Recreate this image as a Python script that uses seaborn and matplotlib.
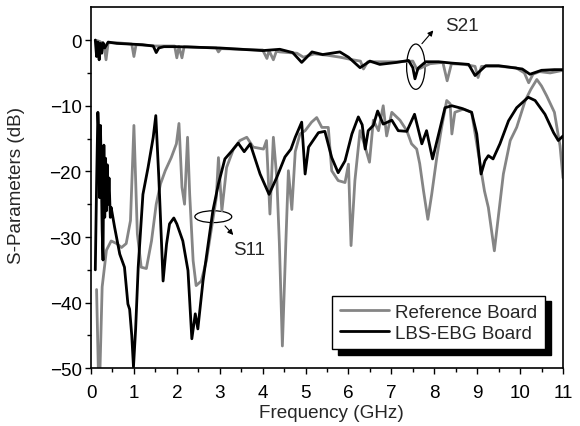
import pandas as pd
import seaborn as sns
import matplotlib.pyplot as plt
from matplotlib.patches import Ellipse

# S11 of the LBS-EBG board (black)
ebgS11X = [0.10, 0.13, 0.16, 0.18, 0.20, 0.22, 0.24, 0.26, 0.28, 0.30, 0.32, 0.34, 0.36, 0.38, 0.40, 0.42, 0.45,
           0.47, 0.55, 0.67, 0.78, 0.86, 0.90, 0.95, 0.99, 1.04, 1.10, 1.21, 1.33, 1.45, 1.51, 1.58, 1.68, 1.76,
           1.83, 1.93, 2.00, 2.14, 2.26, 2.35, 2.43, 2.49, 2.61, 2.73, 2.84, 2.97, 3.12, 3.28, 3.43, 3.57, 3.71,
           3.94, 4.15, 4.33, 4.52, 4.66, 4.76, 4.91, 4.99, 5.07, 5.30, 5.45, 5.61, 5.76, 5.92, 6.08, 6.23, 6.32,
           6.39, 6.46, 6.58, 6.68, 6.81, 7.01, 7.16, 7.36, 7.54, 7.71, 7.82, 7.96, 8.14, 8.25, 8.41, 8.64, 8.87,
           8.99, 9.09, 9.18, 9.26, 9.37, 9.53, 9.73, 9.92, 10.19, 10.35, 10.58, 10.78, 10.89, 11.0]
ebgS11Y = [-35, -22, -11, -14, -24, -13, -20, -29, -33.5, -16, -27, -18, -26, -19, -25, -21, -27,
           -25.5, -28.5, -32.6, -34.6, -40.2, -41, -45, -49.8, -44, -34.6, -23.5, -19.4, -14.8, -11.5, -20.9, -36.7, -31.1,
           -28, -27.1, -28, -30.6, -35.1, -45.5, -41.7, -44, -36.7, -31.1, -26, -21.9, -18.1, -16.9, -15.7, -17, -15.8,
           -20.4, -23.5, -20.9, -17.8, -16.6, -14.8, -12.5, -20.4, -16.3, -14.1, -13.9, -17.9, -20.2, -18.4, -14.3, -11.7, -12.9,
           -16.6, -13.8, -13, -10.8, -12.8, -12.2, -13.8, -13.9, -11.3, -15.8, -13.8, -18.1, -13.3, -10.3, -10, -10.4, -11,
           -14.3, -20.4, -18.4, -17.6, -18.1, -15.8, -12.3, -10.3, -8.7, -9.2, -11.3, -14.1, -15.3, -14.6]

# S11 of the reference board (grey)
refS11X = [0.13, 0.17, 0.21, 0.26, 0.36, 0.47, 0.60, 0.71, 0.82, 0.92, 1.00, 1.08, 1.17, 1.29, 1.41, 1.52, 1.62,
           1.73, 1.87, 1.99, 2.05, 2.12, 2.18, 2.25, 2.30, 2.38, 2.45, 2.57, 2.69, 2.80, 2.92, 2.97, 3.05, 3.16,
           3.32, 3.47, 3.63, 3.78, 4.02, 4.09, 4.17, 4.25, 4.33, 4.39, 4.46, 4.54, 4.60, 4.68, 4.76, 4.87, 4.99,
           5.14, 5.26, 5.38, 5.53, 5.61, 5.76, 5.92, 6.00, 6.06, 6.15, 6.27, 6.39, 6.49, 6.58, 6.70, 6.81, 6.89,
           7.01, 7.20, 7.36, 7.47, 7.59, 7.66, 7.75, 7.85, 7.94, 8.06, 8.17, 8.29, 8.37, 8.41, 8.48, 8.68, 8.87,
           9.03, 9.17, 9.26, 9.40, 9.50, 9.61, 9.77, 9.92, 10.12, 10.25, 10.39, 10.50, 10.62, 10.80, 10.93, 11.0]
refS11Y = [-38, -50, -50, -37.6, -32, -30.6, -31, -31.6, -31, -27.5, -13, -29.5, -34.6, -34.8, -30.6, -25, -21.9,
           -19.9, -17.9, -15.8, -12.7, -22.4, -25, -14.8, -23.5, -33.6, -37.4, -36.7, -33.6, -29, -24, -17.9, -26, -19.4,
           -16.6, -15.3, -14.8, -16.3, -16.6, -15.3, -26.5, -14.8, -21, -31, -46.6, -31, -19.9, -25.8, -17, -14.3, -13.8,
           -12.5, -11.8, -13.3, -13.3, -19.9, -21.4, -21.7, -18.9, -31.3, -21.4, -13.8, -16.3, -18.6, -12.2, -13.8, -10, -14.6,
           -11, -12.2, -13.8, -15.8, -16.6, -18.8, -23, -27.3, -23.5, -17.8, -13.3, -9.2, -9.7, -14.3, -11, -10.5, -11,
           -17.4, -23, -25.5, -32.1, -26.5, -20.4, -15.3, -13.3, -9.2, -7.5, -6, -7, -8.5, -11, -16.1, -21]

# S21 of the LBS-EBG board (black)
ebgS21X = [0.10, 0.13, 0.16, 0.19, 0.22, 0.25, 0.28, 0.32, 0.40, 0.60, 0.90, 1.20, 1.45, 1.52, 1.58, 1.70, 2.00,
           2.50, 3.00, 3.50, 4.00, 4.40, 4.70, 4.91, 5.15, 5.40, 5.80, 6.00, 6.27, 6.50, 6.73, 7.12, 7.40, 7.50,
           7.55, 7.62, 7.80, 8.10, 8.40, 8.80, 8.95, 9.20, 9.50, 9.83, 10.05, 10.23, 10.50, 10.80, 11.0]
ebgS21Y = [0, -2.5, -0.3, -3, -0.5, -2, -0.4, -1.2, -0.3, -0.5, -0.6, -0.7, -0.9, -1.9, -1.2, -1.0, -1.0,
           -1.1, -1.2, -1.4, -1.6, -1.4, -1.9, -3.4, -1.8, -2.2, -1.8, -2.6, -4.2, -3.2, -3.7, -3.4, -3.1, -4.2,
           -5.9, -4.3, -3.3, -3.3, -3.5, -3.7, -5.4, -3.9, -3.9, -4.2, -4.4, -5.2, -4.6, -4.5, -4.5]

# S21 of the reference board (grey)
refS21X = [0.10, 0.20, 0.30, 0.35, 0.40, 0.60, 0.95, 1.00, 1.05, 1.50, 1.95, 2.00, 2.05, 2.12, 2.17, 2.25, 2.50,
           2.92, 2.97, 3.03, 3.50, 4.00, 4.10, 4.15, 4.25, 4.32, 4.40, 4.80, 4.95, 5.20, 5.50, 5.80, 6.10, 6.28,
           6.35, 6.45, 6.80, 7.20, 7.50, 7.60, 7.90, 8.20, 8.30, 8.40, 8.70, 8.95, 9.02, 9.10, 9.50, 9.90, 10.10,
           10.20, 10.30, 10.45, 10.70, 11.0]
refS21Y = [0, -0.2, -0.6, -3, -0.4, -0.4, -0.6, -2.5, -0.7, -0.9, -0.9, -2.7, -1.0, -2.7, -1.0, -1.0, -1.1,
           -1.2, -1.8, -1.3, -1.4, -1.5, -2.8, -1.6, -3, -1.7, -1.8, -2.0, -2.6, -2.1, -2.3, -2.6, -3.0, -3.2,
           -4.4, -3.3, -3.3, -3.3, -3.2, -4.5, -3.6, -3.4, -6.2, -3.6, -3.7, -4.0, -5.7, -4.0, -4.0, -4.2, -5.0,
           -6.5, -5.2, -4.8, -5.0, -4.6]

boardColours = {'Reference Board': '#858585', 'LBS-EBG Board': 'black'}

sns.set_style('ticks')
plt.rcParams['font.family'] = ['Liberation Sans', 'DejaVu Sans']
plt.rcParams['font.size'] = 13.6

fig = plt.figure(figsize=(5.8, 4.27), dpi=100)
ax = fig.add_axes([0.1569, 0.1351, 0.8138, 0.8455])

# Grey curves first, black on top
refS11 = pd.DataFrame({'f': refS11X, 'dB': refS11Y})
refS21 = pd.DataFrame({'f': refS21X, 'dB': refS21Y})
ebgS11 = pd.DataFrame({'f': ebgS11X, 'dB': ebgS11Y})
ebgS21 = pd.DataFrame({'f': ebgS21X, 'dB': ebgS21Y})
sns.lineplot(data=refS11, x='f', y='dB', ax=ax, color=boardColours['Reference Board'], lw=2, sort=False,
             label='Reference Board')
sns.lineplot(data=refS21, x='f', y='dB', ax=ax, color=boardColours['Reference Board'], lw=2, sort=False)
sns.lineplot(data=ebgS11, x='f', y='dB', ax=ax, color=boardColours['LBS-EBG Board'], lw=2, sort=False,
             label='LBS-EBG Board')
sns.lineplot(data=ebgS21, x='f', y='dB', ax=ax, color=boardColours['LBS-EBG Board'], lw=2, sort=False)

ax.set_xlim(0, 11)
ax.set_ylim(-50, 5)
ax.set_xticks(range(0, 12))
ax.set_yticks([0, -10, -20, -30, -40, -50])
ax.set_xticks([x + 0.5 for x in range(0, 11)], minor=True)
ax.set_yticks([-5, -15, -25, -35, -45], minor=True)
ax.tick_params(which='major', direction='out', length=4.3, width=1, pad=7, colors='black')
ax.tick_params(axis='y', which='major', pad=2.5)
ax.tick_params(which='minor', direction='out', length=3, width=1, colors='black')
for spine in ax.spines.values():
    spine.set_visible(True)
    spine.set_linewidth(1.2)
    spine.set_color('black')

ax.set_xlabel('Frequency (GHz)')
ax.set_ylabel('S-Parameters (dB)')
ax.xaxis.set_label_coords(0.51, -0.099)
ax.yaxis.set_label_coords(-0.140, 0.509)

# Ellipses and arrows marking S21 and S11
ax.add_patch(Ellipse((7.57, -4.05), 0.43, 6.9, fill=False, edgecolor='black', lw=0.9))
ax.annotate('', xy=(8.02, 1.8), xytext=(7.67, -0.87),
            arrowprops=dict(arrowstyle='-|>', color='black', lw=0.8, mutation_scale=8))
ax.text(8.25, 2.3, 'S21', va='center', ha='left')
ax.add_patch(Ellipse((2.85, -26.9), 0.86, 1.8, fill=False, edgecolor='black', lw=0.9))
ax.annotate('', xy=(3.36, -30.0), xytext=(3.08, -28.0),
            arrowprops=dict(arrowstyle='-|>', color='black', lw=0.8, mutation_scale=8))
ax.text(3.31, -31.9, 'S11', va='center', ha='left')

# Legend with a solid black shadow
ax.legend(loc='lower right', bbox_to_anchor=(0.962, 0.053), borderaxespad=0, fancybox=False,
          edgecolor='black', framealpha=1, handlelength=2.6, handletextpad=0.35, borderpad=0.4,
          labelspacing=0.2, shadow={'ox': 4, 'oy': -4, 'color': 'black', 'alpha': 1})

plt.savefig('out.png', dpi=100)
